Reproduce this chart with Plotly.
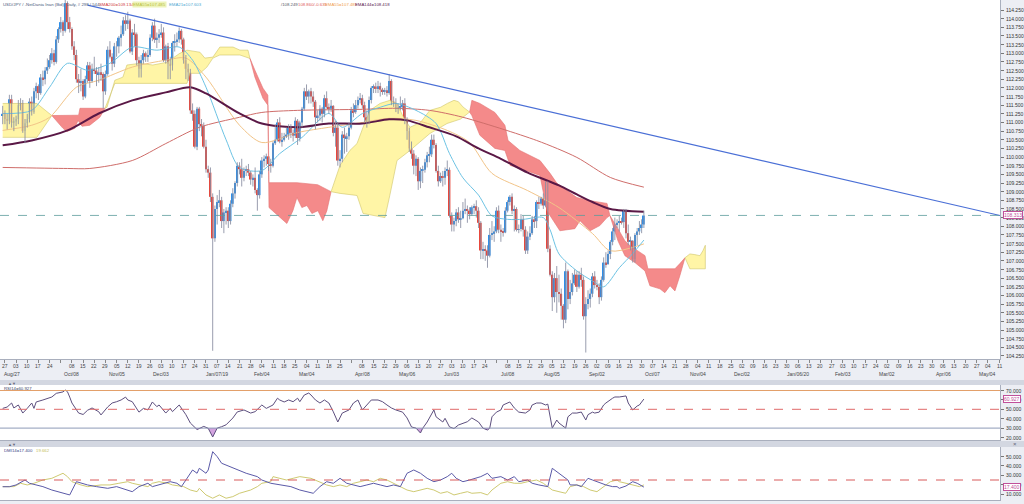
import numpy as np
import pandas as pd
import plotly.graph_objects as go

W, H = 1024, 504

# ---------------- data ----------------
start_date = "2018-08-24"   # first candle
anchor_date = "2018-08-27"  # trading-day 0 (Monday)

opens = [
    111.20, 111.25, 111.10, 111.05, 111.67, 111.00,
    111.03, 111.10, 111.50, 111.55, 110.75,
    110.98, 111.10, 111.60, 111.30, 111.90,
    112.05, 111.85, 112.30, 112.25, 112.50,
    112.60, 112.80, 113.00, 112.75, 113.40,
    113.70, 113.90, 113.65, 114.45, 113.90,
    113.70, 113.20, 112.95, 112.25, 112.15,
    112.20, 111.75, 112.25, 112.65, 112.20,
    112.55, 112.50, 112.40, 112.45, 112.40,
    111.90, 112.40, 113.10, 112.90, 112.70,
    113.20, 113.20, 113.45, 113.55, 113.95,
    113.85, 113.95, 113.05, 113.60, 113.55,
    112.80, 112.55, 112.80, 113.00, 112.90,
    112.95, 113.45, 113.80, 113.40, 113.45,
    113.55, 113.60, 112.80, 113.20, 112.70,
    112.65, 113.30, 113.35, 113.40, 113.65,
    113.40, 112.80, 112.55, 112.45, 111.35,
    111.25, 110.30, 111.40, 110.95, 110.90,
    110.30, 109.65, 109.55, 108.85, 107.65,
    108.50, 108.70, 108.75, 108.15, 108.40,
    108.45, 108.15, 108.65, 108.95, 109.25,
    109.75, 109.65, 109.40, 109.60, 109.65,
    109.55, 109.35, 109.40, 109.05, 108.90,
    109.50, 109.90, 109.95, 110.02, 109.80,
    109.75, 110.40, 110.50, 111.00, 110.45,
    110.50, 110.60, 110.65, 110.85, 110.70,
    110.62, 111.05, 110.55, 111.00, 111.40,
    111.90, 111.75, 111.90, 111.75, 111.60,
    111.15, 111.20, 111.40, 111.25, 111.70,
    111.45, 111.40, 111.48, 110.70, 110.85,
    109.90, 109.95, 110.65, 110.55, 110.60,
    110.85, 111.35, 111.30, 111.50, 111.65,
    111.70, 111.50, 111.15, 111.05, 111.65,
    112.00, 112.04, 111.97, 112.05, 111.95,
    111.90, 111.93, 111.85, 112.20, 111.60,
    111.55, 111.40, 111.43, 111.45, 111.55,
    111.10, 110.75, 110.25, 110.10, 109.75,
    109.95, 109.30, 109.60, 109.63, 109.85,
    110.05, 110.08, 110.50, 110.35, 109.60,
    109.30, 109.45, 109.40, 109.60, 109.63,
    108.30, 108.05, 108.15, 108.40, 108.20,
    108.23, 108.45, 108.50, 108.45, 108.35,
    108.55, 108.58, 108.45, 108.10, 107.30,
    107.33, 107.30, 107.15, 107.75, 107.78,
    107.85, 108.45, 107.90, 107.85, 107.82,
    108.45, 108.70, 108.85, 108.45, 108.50,
    107.90, 107.92, 108.20, 107.90, 107.30,
    107.70, 107.80, 108.20, 108.15, 108.70,
    108.65, 108.80, 108.60, 108.75, 107.35,
    106.60, 105.95, 106.50, 106.10, 106.05,
    105.70, 105.30, 106.70, 105.90, 106.10,
    106.35, 106.60, 106.25, 106.60, 106.45,
    105.40, 105.75, 105.90, 106.05, 106.55,
    106.30, 106.25, 105.95, 106.45, 106.95,
    106.90, 107.20, 107.55, 107.85, 108.05,
    108.10, 108.15, 108.12, 108.45, 107.80,
    107.55, 107.58, 107.05, 107.75, 107.85,
    107.95, 108.05,
]
highs = [
    111.48, 111.35, 111.25, 111.80, 111.80, 111.15,
    111.20, 111.65, 111.70, 111.65, 111.10,
    111.25, 111.70, 111.75, 112.00, 112.15,
    112.10, 112.40, 112.50, 112.60, 112.85,
    112.95, 113.15, 113.10, 113.50, 113.75,
    114.05, 113.95, 114.55, 114.50, 114.05,
    113.75, 113.35, 113.10, 112.40, 112.55,
    112.25, 112.35, 112.75, 112.75, 112.70,
    112.90, 112.60, 112.60, 112.70, 112.45,
    112.50, 113.20, 113.35, 113.00, 113.30,
    113.35, 113.50, 113.80, 114.05, 114.10,
    114.20, 114.00, 113.70, 113.85, 113.60,
    112.90, 112.95, 113.10, 113.05, 113.10,
    113.55, 113.90, 114.00, 113.60, 113.70,
    113.85, 113.75, 113.25, 113.30, 112.90,
    113.35, 113.55, 113.60, 113.75, 113.70,
    113.45, 112.95, 112.70, 112.55, 111.55,
    111.35, 111.45, 111.45, 111.10, 111.00,
    110.50, 109.75, 109.70, 108.95, 108.60,
    108.90, 109.05, 108.85, 108.50, 108.55,
    108.55, 108.75, 109.10, 109.30, 109.85,
    109.85, 109.95, 109.70, 109.75, 109.80,
    109.60, 109.50, 109.70, 109.10, 109.60,
    110.00, 110.05, 110.10, 110.00, 109.95,
    110.45, 110.95, 111.10, 111.15, 110.70,
    110.70, 110.85, 110.95, 110.95, 110.80,
    111.15, 111.10, 111.05, 111.45, 112.00,
    112.10, 111.95, 112.00, 111.90, 111.65,
    111.35, 111.50, 111.45, 111.80, 111.90,
    111.55, 111.65, 111.50, 111.05, 111.00,
    110.20, 110.75, 110.85, 110.70, 111.00,
    111.45, 111.55, 111.65, 111.75, 111.85,
    111.80, 111.60, 111.35, 111.75, 112.05,
    112.10, 112.15, 112.20, 112.15, 112.00,
    112.00, 112.05, 112.40, 112.25, 111.75,
    111.70, 111.55, 111.75, 111.65, 111.70,
    111.15, 110.85, 110.45, 110.20, 110.05,
    110.00, 109.70, 109.75, 109.95, 110.15,
    110.30, 110.65, 110.65, 110.40, 109.75,
    109.55, 109.60, 109.70, 109.90, 109.70,
    108.40, 108.25, 108.50, 108.55, 108.45,
    108.70, 108.80, 108.60, 108.55, 108.60,
    108.65, 108.75, 108.55, 108.15, 107.55,
    107.45, 107.45, 107.95, 108.15, 108.00,
    108.55, 108.60, 108.05, 107.95, 108.55,
    108.75, 108.90, 108.95, 108.60, 108.55,
    108.05, 108.35, 108.30, 108.00, 107.85,
    108.00, 108.30, 108.30, 108.75, 108.85,
    108.85, 108.95, 109.30, 109.30, 107.45,
    106.70, 106.65, 106.85, 106.60, 106.20,
    105.75, 106.95, 106.75, 106.45, 106.65,
    106.75, 106.70, 106.70, 106.80, 106.55,
    105.95, 106.15, 106.20, 106.65, 106.70,
    106.45, 106.35, 106.55, 107.10, 107.25,
    107.30, 107.60, 107.95, 108.25, 108.20,
    108.30, 108.25, 108.50, 108.50, 108.05,
    107.70, 107.60, 107.80, 107.95, 108.15,
    108.20, 108.45,
]
lows = [
    110.95, 110.95, 110.80, 110.95, 110.85, 110.75,
    110.90, 110.95, 111.35, 110.70, 110.40,
    110.85, 111.00, 111.20, 111.25, 111.70,
    111.65, 111.80, 112.05, 112.10, 112.40,
    112.55, 112.70, 112.65, 112.70, 113.30,
    113.60, 113.50, 113.60, 113.70, 113.60,
    113.10, 112.80, 112.15, 111.85, 111.90,
    111.65, 111.70, 112.15, 112.00, 112.15,
    112.40, 112.05, 112.15, 112.20, 111.40,
    111.80, 112.35, 112.85, 112.50, 112.60,
    112.90, 113.00, 113.20, 113.50, 113.65,
    113.70, 113.00, 112.95, 113.20, 112.65,
    112.30, 112.30, 112.70, 112.75, 112.75,
    112.90, 113.35, 113.30, 113.15, 113.30,
    113.45, 112.75, 112.70, 112.25, 112.25,
    112.50, 113.05, 113.20, 113.30, 113.25,
    112.70, 112.25, 112.20, 111.25, 111.05,
    110.25, 110.20, 110.75, 110.60, 110.25,
    109.55, 109.40, 108.70, 104.40, 107.55,
    108.05, 108.55, 107.95, 107.80, 108.05,
    107.95, 108.05, 108.55, 108.80, 109.15,
    109.50, 109.15, 109.30, 109.45, 109.45,
    109.20, 109.15, 108.95, 108.45, 108.80,
    109.40, 109.70, 109.75, 109.60, 109.55,
    109.70, 110.35, 110.45, 110.40, 110.30,
    110.45, 110.55, 110.50, 110.55, 110.45,
    110.55, 110.35, 110.45, 110.85, 111.35,
    111.65, 111.55, 111.55, 111.45, 110.80,
    111.00, 111.05, 111.00, 111.15, 111.40,
    111.25, 111.30, 110.60, 110.30, 109.75,
    109.70, 109.85, 110.10, 110.15, 110.50,
    110.80, 111.15, 111.25, 111.40, 111.55,
    111.40, 111.00, 110.85, 110.95, 111.55,
    111.85, 111.85, 111.85, 111.75, 111.80,
    111.80, 111.75, 111.80, 111.50, 111.45,
    111.30, 111.25, 111.35, 111.35, 110.95,
    110.50, 110.15, 109.95, 109.50, 109.45,
    109.05, 109.10, 109.25, 109.55, 109.70,
    109.85, 110.00, 110.25, 109.55, 109.15,
    109.25, 109.15, 109.20, 109.45, 108.25,
    107.85, 107.85, 108.00, 108.10, 107.95,
    108.20, 108.35, 108.10, 108.20, 108.30,
    108.35, 108.25, 107.95, 107.05, 107.05,
    107.00, 106.80, 107.10, 107.60, 107.55,
    107.80, 107.80, 107.55, 107.70, 107.80,
    108.40, 108.60, 108.35, 107.85, 107.85,
    107.80, 107.85, 107.70, 107.20, 107.20,
    107.60, 107.75, 107.95, 107.95, 108.50,
    108.60, 108.50, 108.55, 107.25, 106.55,
    105.55, 105.80, 105.50, 105.80, 105.30,
    105.05, 105.20, 105.60, 105.75, 106.00,
    106.30, 106.10, 106.20, 106.25, 105.30,
    104.35, 105.60, 105.65, 105.95, 106.20,
    106.15, 105.75, 105.85, 106.40, 106.80,
    106.90, 107.05, 107.45, 107.60, 107.95,
    107.85, 108.05, 107.95, 107.65, 107.45,
    107.30, 106.95, 106.95, 107.45, 107.75,
    107.80, 107.95,
]
closes = [
    111.25, 111.10, 111.05, 111.67, 111.00, 111.03,
    111.10, 111.50, 111.55, 110.75, 110.98,
    111.10, 111.60, 111.30, 111.90, 112.05,
    111.85, 112.30, 112.25, 112.50, 112.60,
    112.80, 113.00, 112.75, 113.40, 113.70,
    113.90, 113.65, 114.45, 113.90, 113.70,
    113.20, 112.95, 112.25, 112.15, 112.20,
    111.75, 112.25, 112.65, 112.20, 112.55,
    112.50, 112.40, 112.45, 112.40, 111.90,
    112.40, 113.10, 112.90, 112.70, 113.20,
    113.20, 113.45, 113.55, 113.95, 113.85,
    113.95, 113.05, 113.60, 113.55, 112.80,
    112.55, 112.80, 113.00, 112.90, 112.95,
    113.45, 113.80, 113.40, 113.45, 113.55,
    113.60, 112.80, 113.20, 112.70, 112.65,
    113.30, 113.35, 113.40, 113.65, 113.40,
    112.80, 112.55, 112.45, 111.35, 111.25,
    110.30, 111.40, 110.95, 110.90, 110.30,
    109.65, 109.55, 108.85, 107.65, 108.50,
    108.70, 108.75, 108.15, 108.40, 108.45,
    108.15, 108.65, 108.95, 109.25, 109.75,
    109.65, 109.40, 109.60, 109.65, 109.55,
    109.35, 109.40, 109.05, 108.90, 109.50,
    109.90, 109.95, 110.02, 109.80, 109.75,
    110.40, 110.50, 111.00, 110.45, 110.50,
    110.60, 110.65, 110.85, 110.70, 110.62,
    111.05, 110.55, 111.00, 111.40, 111.90,
    111.75, 111.90, 111.75, 111.60, 111.15,
    111.20, 111.40, 111.25, 111.70, 111.45,
    111.40, 111.48, 110.70, 110.85, 109.90,
    109.95, 110.65, 110.55, 110.60, 110.85,
    111.35, 111.30, 111.50, 111.65, 111.70,
    111.50, 111.15, 111.05, 111.65, 112.00,
    112.04, 111.97, 112.05, 111.95, 111.90,
    111.93, 111.85, 112.20, 111.60, 111.55,
    111.40, 111.43, 111.45, 111.55, 111.10,
    110.75, 110.25, 110.10, 109.75, 109.95,
    109.30, 109.60, 109.63, 109.85, 110.05,
    110.08, 110.50, 110.35, 109.60, 109.30,
    109.45, 109.40, 109.60, 109.63, 108.30,
    108.05, 108.15, 108.40, 108.20, 108.23,
    108.45, 108.50, 108.45, 108.35, 108.55,
    108.58, 108.45, 108.10, 107.30, 107.33,
    107.30, 107.15, 107.75, 107.78, 107.85,
    108.45, 107.90, 107.85, 107.82, 108.45,
    108.70, 108.85, 108.45, 108.50, 107.90,
    107.92, 108.20, 107.90, 107.30, 107.70,
    107.80, 108.20, 108.15, 108.70, 108.65,
    108.80, 108.60, 108.75, 107.35, 106.60,
    105.95, 106.50, 106.10, 106.05, 105.70,
    105.30, 106.70, 105.90, 106.10, 106.35,
    106.60, 106.25, 106.60, 106.45, 105.40,
    105.75, 105.90, 106.05, 106.55, 106.30,
    106.25, 105.95, 106.45, 106.95, 106.90,
    107.20, 107.55, 107.85, 108.05, 108.10,
    108.15, 108.12, 108.45, 107.80, 107.55,
    107.58, 107.05, 107.75, 107.85, 107.95,
    108.05, 108.31,
]

# moving averages (trading-day number, value)
sma200_days = [-1, 28, 38, 57, 72, 87, 105, 115, 131, 160, 175, 190, 205, 238, 256, 271, 286]
sma200_vals = [109.70, 109.67, 109.67, 109.90, 110.39, 110.86, 111.15, 111.29, 111.35, 111.38,
               111.41, 111.35, 111.15, 110.48, 109.99, 109.41, 109.13]
ema144_days = [-1, 12, 28, 42, 57, 72, 83, 90, 105, 115, 131, 145, 160, 172, 180, 190, 202, 212,
               222, 234, 248, 256, 263, 271, 286]
ema144_vals = [110.34, 110.48, 110.77, 111.26, 111.64, 111.87, 112.02, 111.84, 111.26, 110.97,
               110.86, 110.97, 110.97, 111.09, 111.06, 110.86, 110.60, 110.25, 109.95, 109.55,
               109.18, 108.92, 108.70, 108.50, 108.42]
ema55_days = [-1, 12, 20, 32, 42, 57, 72, 81, 90, 105, 115, 131, 145, 160, 172, 184, 198, 208,
              218, 234, 248, 263, 271, 286]
ema55_vals = [110.77, 110.92, 111.15, 112.02, 112.22, 112.60, 112.80, 112.86, 112.31, 110.92,
              110.42, 110.71, 110.86, 111.00, 111.12, 111.06, 110.77, 110.42, 109.53, 109.03,
              108.54, 107.79, 107.29, 107.49]
ema21_days = [-1, 12, 20, 28, 37, 47, 57, 68, 78, 84, 90, 99, 105, 115, 123, 133, 145, 151, 160,
              168, 175, 184, 193, 199, 205, 212, 218, 225, 232, 241, 244, 248, 256, 263, 268,
              275, 281, 286]
ema21_vals = [111.26, 111.35, 112.02, 112.71, 112.51, 112.71, 113.18, 113.09, 113.18, 112.80,
              112.02, 110.50, 109.70, 109.61, 110.10, 110.57, 111.26, 110.86, 111.26, 111.44,
              111.55, 111.35, 110.97, 110.10, 109.40, 108.90, 108.30, 108.20, 108.20, 108.25,
              107.90, 107.20, 106.71, 106.42, 106.25, 106.80, 107.21, 107.60]

# Ichimoku spans (trading-day number incl. 26-day forward shift, price)
spanA_days = [-1, 14.3, 21, 26, 27.8, 31.3, 32.7, 34.5, 38, 42.5, 44.8,
              45.7, 49.2, 52.8, 54.6, 60.4, 66.2, 72.5, 78.3, 81.5, 87.3, 89.5, 93.1, 96.2,
              102.1, 105.2, 108.8, 109.7,
              111.9, 115.5, 117.7, 118.2, 126.2, 128.9, 130.7, 132.9, 135.2, 137.4, 140.1,
              142.3, 144.1, 146,
              150, 154.4, 157.6, 160.3, 163.4, 167.9, 172.3, 175.5, 178, 181.3, 186, 190.2,
              195, 198, 201, 203, 205, 208,
              209, 212.6, 219.3, 223.8, 226.1, 230.5, 239.5, 242.6, 248.4, 255.1, 257.4,
              261.9, 266.3, 269.5, 270.8,
              274.4, 277.5, 282, 286.5, 288.7, 293.2, 295.4, 297.7, 299.9, 302.1, 304.4,
              306.6, 308.8, 311.1, 312.4, 313.5]
spanA_vals = [111.55, 111.55, 111.20, 110.83, 110.74, 110.83, 111.06, 110.89, 110.92, 111.15, 111.41,
              111.44, 112.22, 112.31, 112.66, 112.71, 112.66, 112.74, 113.00, 113.09, 113.03,
              112.86, 112.89, 113.18, 113.18, 113.09, 113.09, 112.85,
              112.31, 111.70, 111.50, 108.54, 108.08, 108.45, 108.83, 108.54, 108.60, 108.37,
              108.45, 108.16, 108.45, 109.00,
              109.76, 110.19, 110.39, 110.86, 111.35, 111.55, 111.64, 111.55, 111.20, 110.86,
              111.00, 111.35, 111.44, 111.55, 111.64, 111.60, 111.45, 111.30,
              111.20, 110.63, 110.25, 110.19, 109.76, 109.67, 109.47, 108.45, 107.87, 107.93,
              108.16, 107.87, 108.02, 108.25, 108.31,
              107.58, 107.15, 106.95, 106.71, 106.28, 106.19, 106.08, 106.28, 106.13, 106.57,
              107.09,
              107.20, 107.18, 107.15, 107.29, 107.45]
spanB_days = [-1, 14.3, 21, 33, 33.6, 44.8,
              49.2, 81.5, 82.8, 87.3, 90.4, 93.1, 96.2, 105.2, 109.7,
              111.9, 115.5, 117.7, 118.2, 130.7, 140, 146,
              150, 157.6, 160.3, 170.1, 172.3, 175.5, 181.3, 190.2, 197.9, 204, 208,
              209, 212.6, 219.3, 223.8, 225.2, 230.5, 239.5, 244, 247.1, 256, 261.9, 269.5, 270.8,
              274.4, 277.5, 279.8, 286.5, 287.8, 299.9, 302.1, 304.4,
              306.6, 313.5]
spanB_vals = [110.57, 110.57, 111.20, 111.21, 111.41, 111.41,
              112.13, 112.13, 112.42, 112.42, 112.60, 112.86, 112.95, 112.95, 112.85,
              112.51, 111.99, 111.79, 109.26, 109.26, 109.20, 109.00,
              108.95, 108.89, 108.37, 108.25, 108.90, 109.90, 110.19, 110.68, 110.97, 111.10, 111.30,
              111.64, 111.55, 111.29, 110.92, 110.48, 110.19, 109.90, 109.53, 109.24, 108.83,
              108.74, 108.66, 108.31,
              107.93, 107.58, 107.44, 107.15, 106.77, 106.77, 106.92, 107.09,
              106.77, 106.77]
cloud_cross_days = [-1, 21, 44.8, 109.7, 146, 208, 270.8, 304.4, 313.5]

# trend line (trading-day number, price)
trend_days = [37, 445.4]
trend_vals = [114.39, 108.31]
last_price = 108.313

# RSI(14)
rsi_days = [-1, 1, 3, 4, 6, 8, 10, 12, 13, 14,
            17, 19, 21, 23, 26, 27, 28, 29, 30, 33,
            35, 37, 39, 42, 43, 46, 48, 50, 52, 54,
            55, 57, 60, 62, 64, 66, 68, 69, 72, 74,
            75, 78, 81, 83, 85, 86, 89, 91, 93, 95,
            97, 99, 102, 104, 107, 110, 112, 115, 117, 120,
            122, 123, 125, 127, 129, 131, 132, 134, 136, 137,
            139, 141, 143, 145, 147, 149, 151, 154, 156, 158,
            160, 162, 164, 167, 169, 171, 173, 175, 178, 180,
            182, 184, 186, 187, 189, 192, 193, 196, 197, 199,
            201, 203, 205, 207, 209, 212, 214, 216, 217, 218,
            220, 222, 223, 225, 226, 228, 230, 233, 235, 236,
            238, 240, 242, 243, 244, 245, 247, 248, 251, 252,
            254, 256, 258, 260, 261, 263, 264, 266, 268, 269,
            272, 273, 275, 278, 279, 281, 283, 284, 286]
rsi_vals = [51.0, 52.4, 56.7, 51.4, 54.6, 46.0, 51.0, 56.7, 51.0, 57.8,
            59.9, 61.6, 63.1, 67.0, 68.5, 70.5, 68.7, 63.0, 56.7, 46.0,
            44.5, 49.0, 51.4, 47.4, 44.0, 52.5, 56.7, 58.1, 59.9, 63.0,
            59.9, 58.1, 47.0, 51.0, 49.3, 57.8, 52.8, 54.6, 46.0, 51.0,
            47.5, 54.6, 44.3, 35.4, 30.0, 28.5, 31.8, 29.8, 20.5, 30.0,
            31.5, 33.5, 40.7, 47.2, 49.3, 46.0, 47.5, 54.6, 51.0, 54.6,
            61.8, 59.9, 57.8, 59.9, 58.1, 61.8, 58.1, 65.2, 67.3, 65.2,
            59.9, 56.7, 59.9, 56.7, 47.3, 36.5, 46.0, 49.3, 56.7, 59.9,
            49.3, 54.6, 59.9, 59.9, 58.1, 54.6, 51.4, 49.3, 47.0, 40.8,
            31.2, 30.0, 24.8, 29.8, 36.5, 49.3, 42.0, 36.5, 40.4, 31.3,
            29.5, 33.3, 35.4, 36.8, 40.8, 36.5, 29.9, 28.0, 29.9, 42.0,
            47.0, 49.3, 54.6, 56.7, 57.8, 51.4, 47.0, 46.0, 49.3, 54.6,
            56.7, 56.7, 54.6, 55.5, 42.0, 30.0, 38.6, 35.4, 30.0, 42.0,
            46.0, 46.0, 47.1, 38.6, 44.3, 47.0, 46.0, 47.0, 54.6, 56.7,
            61.8, 63.1, 63.1, 64.2, 56.7, 49.3, 53.5, 54.6, 60.9]

# DMI(14)
dmi_minus_days = [-1, 2, 5, 9, 11, 14, 17, 21, 26, 29, 32, 37, 41, 46, 50, 55, 57, 60, 64, 66,
                  71, 74, 77, 79, 81, 84, 86, 87, 90, 91, 93, 95, 97, 101, 105, 108, 113, 115,
                  119, 123, 128, 132, 135, 138, 141, 144, 147, 150, 153, 156, 159, 162, 165,
                  168, 171, 174, 177, 180, 183, 186, 189, 192, 195, 198, 200, 202, 205, 208,
                  213, 216, 218, 222, 225, 228, 230, 234, 236, 239, 243, 245, 248, 250, 252,
                  253, 256, 258, 261, 263, 265, 267, 269, 272, 274, 275, 278, 281, 283, 286]
dmi_minus_vals = [17.8, 17.8, 19.7, 25.0, 21.5, 19.7, 17.9, 14.3, 10.8, 9.0, 23.2, 19.7, 17.9,
                  16.1, 17.9, 14.3, 12.5, 17.9, 21.5, 17.9, 21.5, 23.2, 21.5, 17.9, 25.0, 35.7,
                  32.2, 37.5, 32.2, 35.7, 55.3, 50.0, 42.9, 39.3, 35.7, 32.2, 28.6, 25.0, 21.5,
                  20.0, 17.9, 14.3, 12.5, 10.8, 17.9, 23.2, 21.5, 26.8, 21.5, 19.7, 17.9, 19.7,
                  21.5, 19.7, 17.9, 19.7, 17.9, 32.2, 35.7, 32.2, 26.8, 23.2, 25.0, 28.6, 32.2,
                  26.8, 23.2, 25.0, 28.6, 32.2, 26.8, 28.6, 25.0, 28.6, 23.2, 25.0, 21.5, 19.7,
                  17.9, 37.5, 32.2, 28.6, 25.0, 19.7, 19.7, 17.9, 26.8, 25.0, 23.2, 21.5, 19.7,
                  17.9, 17.9, 16.1, 18.6, 23.2, 21.5, 17.4]
dmi_plus_days = [-1, 4, 7, 10, 13, 17, 21, 26, 28, 30, 34, 37, 43, 47, 51, 55, 57, 60, 64, 66,
                 69, 73, 75, 80, 83, 86, 87, 90, 93, 96, 99, 102, 105, 110, 113, 115, 119, 120,
                 123, 126, 129, 132, 137, 141, 144, 147, 150, 153, 156, 159, 162, 165, 168, 171,
                 174, 177, 180, 183, 186, 189, 192, 195, 198, 201, 204, 207, 209, 213, 216, 218,
                 222, 225, 228, 231, 234, 238, 241, 243, 245, 248, 251, 253, 256, 259, 262, 265,
                 268, 271, 274, 275, 278, 281, 284, 286]
dmi_plus_vals = [17.9, 17.9, 21.5, 19.7, 21.5, 25.0, 26.8, 32.2, 28.6, 23.2, 19.7, 17.9, 19.7,
                 19.7, 21.5, 23.2, 21.5, 19.7, 17.9, 21.5, 23.2, 21.5, 19.7, 17.9, 14.3, 12.5,
                 16.1, 9.0, 5.5, 9.0, 5.5, 7.2, 10.8, 14.3, 17.9, 21.5, 23.2, 28.6, 26.8, 25.0,
                 26.8, 28.6, 26.8, 23.2, 19.7, 17.9, 19.7, 17.9, 21.5, 23.2, 25.0, 23.2, 26.8,
                 25.0, 21.5, 17.9, 14.3, 12.5, 14.3, 16.1, 14.3, 10.8, 12.5, 9.0, 10.8, 12.5,
                 10.8, 11.5, 9.0, 14.3, 21.5, 23.2, 21.5, 21.5, 23.2, 25.0, 21.5, 17.9, 14.3,
                 12.5, 10.8, 17.9, 19.7, 17.9, 14.3, 12.5, 17.9, 23.2, 25.0, 23.2, 21.5, 19.7,
                 17.9, 19.7]

# axis labelling
month_label_dates = ["2018-08-27", "2018-10-08", "2018-11-05", "2018-12-03", "2019-01-07",
                     "2019-02-04", "2019-03-04", "2019-04-08", "2019-05-06", "2019-06-03",
                     "2019-07-08", "2019-08-05", "2019-09-02", "2019-10-07", "2019-11-04",
                     "2019-12-02", "2020-01-06", "2020-02-03", "2020-03-02", "2020-04-06",
                     "2020-05-04"]
month_labels = ["Aug/27", "Oct/08", "Nov/05", "Dec/03", "Jan/07/19", "Feb/04", "Mar/04",
                "Apr/08", "May/06", "Jun/03", "Jul/08", "Aug/05", "Sep/02", "Oct/07",
                "Nov/04", "Dec/02", "Jan/06/20", "Feb/03", "Mar/02", "Apr/06", "May/04"]
price_ticks = [round(104.25 + 0.25 * k, 2) for k in range(41)]
rsi_ticks = [20, 30, 40, 50, 60, 70]
dmi_ticks = [10, 20, 30, 40, 50]

# ---------------- layout constants ----------------
XD = 1000 / W                      # right edge of plot areas
def py(px):                        # pixel row -> paper y
    return 1 - px / H

FONT = "Liberation Sans"
UP, DOWN = "#2f8fe8", "#e8473c"

# ---------------- build ----------------
dates = pd.bdate_range(start_date, periods=len(closes))
day = np.busday_count(np.datetime64(anchor_date), dates.values.astype("datetime64[D]"))
o = np.array(opens); c = np.array(closes)
up = c >= o

fig = go.Figure()

# Ichimoku cloud polygons
aX, aY = np.array(spanA_days), np.array(spanA_vals)
bX, bY = np.array(spanB_days), np.array(spanB_vals)
for b0, b1 in zip(cloud_cross_days[:-1], cloud_cross_days[1:]):
    ma = (aX >= b0) & (aX <= b1)
    mb = (bX >= b0) & (bX <= b1)
    xs = list(aX[ma]) + list(bX[mb][::-1])
    ys = list(aY[ma]) + list(bY[mb][::-1])
    bull = aY[ma].mean() >= bY[mb].mean()
    fig.add_trace(go.Scatter(
        x=xs, y=ys, fill="toself", mode="lines",
        fillcolor="rgba(255,243,150,0.85)" if bull else "rgba(243,128,128,0.92)",
        line=dict(color="#cfc56a" if bull else "#e27272", width=0.6),
        hoverinfo="skip", showlegend=False))

# moving averages
for dd, vv, col, wd in [(sma200_days, sma200_vals, "#cf6d6a", 1.0),
                        (ema55_days, ema55_vals, "#f2c488", 1.0),
                        (ema21_days, ema21_vals, "#6cc3e4", 1.0),
                        (ema144_days, ema144_vals, "#5a1846", 2.0)]:
    fig.add_trace(go.Scatter(x=dd, y=vv, mode="lines",
                             line=dict(color=col, width=wd, shape="spline", smoothing=0.8),
                             hoverinfo="skip", showlegend=False))

# wicks
wx, wy = [], []
for d, h, l in zip(day, highs, lows):
    wx += [d, d, None]
    wy += [l, h, None]
fig.add_trace(go.Scatter(x=wx, y=wy, mode="lines",
                         line=dict(color="rgba(135,140,160,0.85)", width=1),
                         hoverinfo="skip", showlegend=False))

# bodies
base = np.minimum(o, c)
height = np.abs(c - o)
for mask, col in [(up, UP), (~up, DOWN)]:
    fig.add_trace(go.Bar(x=day[mask], y=height[mask], base=base[mask], width=0.8,
                         marker=dict(color=col, line=dict(width=0)),
                         hoverinfo="skip", showlegend=False))

# trend line
fig.add_trace(go.Scatter(x=trend_days, y=trend_vals, mode="lines",
                         line=dict(color="#4a6fd6", width=1.2),
                         hoverinfo="skip", showlegend=False))

# RSI panel
rsi = np.array(rsi_vals)
fig.add_trace(go.Scatter(x=rsi_days, y=[30] * len(rsi_days), mode="lines",
                         line=dict(width=0), xaxis="x2", yaxis="y2",
                         hoverinfo="skip", showlegend=False))
fig.add_trace(go.Scatter(x=rsi_days, y=np.minimum(rsi, 30), mode="lines", fill="tonexty",
                         fillcolor="rgba(200,140,215,0.8)", line=dict(width=0),
                         xaxis="x2", yaxis="y2", hoverinfo="skip", showlegend=False))
fig.add_trace(go.Scatter(x=rsi_days, y=rsi, mode="lines",
                         line=dict(color="#5d4f7e", width=1),
                         xaxis="x2", yaxis="y2", hoverinfo="skip", showlegend=False))

# DMI panel
fig.add_trace(go.Scatter(x=dmi_plus_days, y=dmi_plus_vals, mode="lines",
                         line=dict(color="#cfca72", width=1),
                         xaxis="x3", yaxis="y3", hoverinfo="skip", showlegend=False))
fig.add_trace(go.Scatter(x=dmi_minus_days, y=dmi_minus_vals, mode="lines",
                         line=dict(color="#5b5aa8", width=1),
                         xaxis="x3", yaxis="y3", hoverinfo="skip", showlegend=False))

# ticks
mondays = pd.date_range(anchor_date, "2020-05-11", freq="W-MON")
tick_pos = np.busday_count(np.datetime64(anchor_date), mondays.values.astype("datetime64[D]"))
mmap = dict(zip(month_label_dates, month_labels))

x_range = [-2.2, 445.4]
common_x = dict(domain=[0, XD], range=x_range, showgrid=False, zeroline=False,
                showline=True, linecolor="#a9afbd", linewidth=1)
common_y = dict(side="right", showgrid=False, zeroline=False, ticks="outside", ticklen=3,
                tickcolor="#777", showticklabels=False,
                automargin=False, showline=True, linecolor="#a9afbd", linewidth=1)

shapes = []
for y0, y1 in [(380, 385), (441, 447)]:
    shapes.append(dict(type="rect", xref="paper", yref="paper", x0=0, x1=1,
                       y0=py(y1), y1=py(y0), fillcolor="#d3d7e1", line=dict(width=0),
                       layer="below"))
shapes.append(dict(type="line", xref="paper", yref="y", x0=0, x1=XD,
                   y0=last_price, y1=last_price,
                   line=dict(color="#5c9c9c", width=0.8, dash="dash")))
for lv, col, dash in [(70, "#e3a06a", "solid"), (50, "#e06a6a", "dash"), (30, "#8d9bb8", "solid")]:
    shapes.append(dict(type="line", xref="paper", yref="y2", x0=0, x1=XD, y0=lv, y1=lv,
                       line=dict(color=col, width=1, dash=dash)))
shapes.append(dict(type="line", xref="paper", yref="y3", x0=0, x1=XD, y0=25, y1=25,
                   line=dict(color="#d85a5a", width=1, dash="dash")))

ann = []
def txt(px, pyy, s, col, size=4.3, bg=None, anchor="left"):
    ann.append(dict(x=px / W, y=py(pyy), xref="paper", yref="paper", text=s,
                    showarrow=False, xanchor=anchor, yanchor="middle",
                    font=dict(size=size, color=col, family=FONT),
                    bgcolor=bg, borderpad=0))

# header
txt(2, 5, "USD/JPY / -NetDania Inan (Bid), Daily, # 298 / 544,", "#4a5a7a")
txt(98, 5, "SMA200=109.134", "#d03a3a")
txt(132, 5, "EMA55=107.485", "#b8bf40", bg="#eef3b8")
txt(168, 5, "EMA21=107.603", "#4fa8d2")
txt(280, 5, "/108.249", "#555a66")
txt(297, 5, "108.860/-0.635", "#e05a5a")
txt(324, 5, "EMA55=107.485", "#f0a050")
txt(354, 5, "EMA144=108.418", "#5a2050")
txt(3, 388, "RSI14=60.927", "#3a3f66")
txt(3, 450, "DMI14=17.400", "#3a3f88")
txt(35, 450, "19.662", "#c4be5a")
txt(7, 383, "▲▼", "#667", size=4)
txt(7, 444, "▲▼", "#667", size=4)
txt(1012, 444, "×", "#667", size=6)

# x-axis labels (two rows)
first = True
for pos, m in zip(tick_pos, mondays):
    if m.day != 1:
        ann.append(dict(x=int(pos), y=py(366), xref="x", yref="paper", text=f"{m.day:02d}",
                        showarrow=False, xanchor="center", yanchor="middle",
                        font=dict(size=5, color="#444", family=FONT)))
    ml = mmap.get(m.strftime("%Y-%m-%d"))
    if ml:
        if first:
            ann.append(dict(x=2 / W, y=py(374), xref="paper", yref="paper", text=ml,
                            showarrow=False, xanchor="left", yanchor="middle",
                            font=dict(size=5, color="#444", family=FONT)))
        else:
            ann.append(dict(x=int(pos), y=py(374), xref="x", yref="paper", text=ml,
                            showarrow=False, xanchor="center", yanchor="middle",
                            font=dict(size=5, color="#444", family=FONT)))
    first = False

# right-axis labels
def ylabels(yref, vals, fmt):
    for v in vals:
        ann.append(dict(x=1004 / W, y=v, xref="paper", yref=yref, text=fmt.format(v),
                        showarrow=False, xanchor="left", yanchor="middle",
                        font=dict(size=5, color="#333", family=FONT)))
ylabels("y", price_ticks, "{:.3f}")
ylabels("y2", rsi_ticks, "{:.3f}")
ylabels("y3", dmi_ticks, "{:.3f}")

def box(yref, val, s):
    ann.append(dict(x=1003 / W, y=val, xref="paper", yref=yref, text=s, showarrow=False,
                    xanchor="left", yanchor="middle", bgcolor="white",
                    bordercolor="#c0509a", borderwidth=1, borderpad=0,
                    font=dict(size=5, color="#c0509a", family=FONT)))
box("y", last_price, "108.313")
box("y2", 60.927, "60.927")
box("y3", 17.4, "17.400")

fig.update_layout(
    width=W, height=H, margin=dict(l=0, r=0, t=0, b=0),
    template="none",
    paper_bgcolor="#eceef4", plot_bgcolor="white",
    font=dict(family=FONT, size=5, color="#333"),
    barmode="overlay", showlegend=False,
    xaxis=dict(**common_x, anchor="y", tickvals=tick_pos, showticklabels=False,
               ticks="outside", ticklen=3, tickcolor="#888"),
    xaxis2=dict(**common_x, anchor="y2", matches="x", showticklabels=False, ticks=""),
    xaxis3=dict(**common_x, anchor="y3", matches="x", showticklabels=False, ticks=""),
    yaxis=dict(**common_y, domain=[py(359), 1], range=[104.163, 114.54], tickvals=price_ticks),
    yaxis2=dict(**common_y, domain=[py(440), py(385)], range=[17.34, 75.85], tickvals=rsi_ticks),
    yaxis3=dict(**common_y, domain=[py(500), py(447)], range=[3.6, 60.3], tickvals=dmi_ticks),
    shapes=shapes, annotations=ann,
)

fig.write_html("out.html", config={"displayModeBar": False},
               post_script="document.body.style.margin='0';document.body.style.padding='0';")
